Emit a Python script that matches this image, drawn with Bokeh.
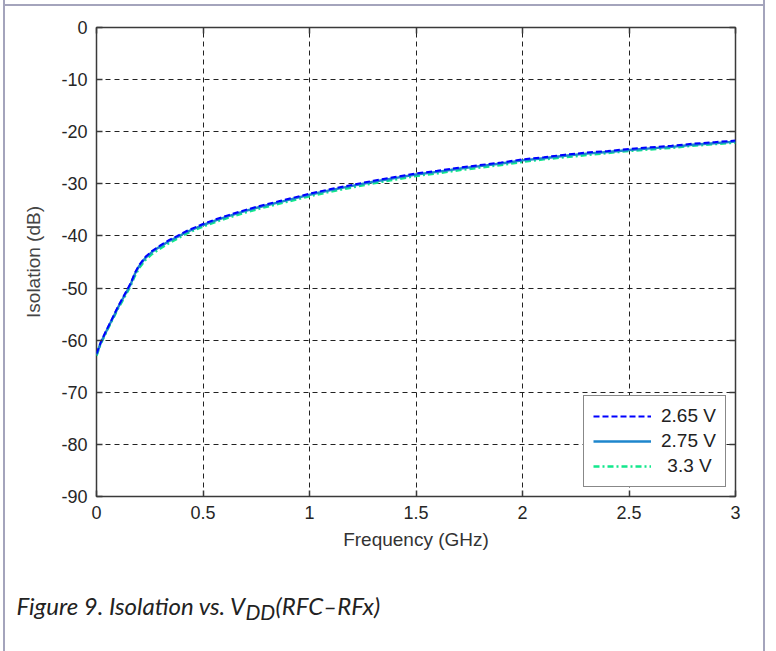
from bokeh.plotting import figure
from bokeh.models import (Range1d, FixedTicker, LinearAxis, CustomJSTickFormatter,
                          Legend, LegendItem, Label, Spacer)
from bokeh.layouts import row, column
from bokeh.embed import file_html
from bokeh.resources import INLINE

# ---------------- data ----------------
freq_ghz = [0, 0.02, 0.04, 0.06, 0.08, 0.10, 0.12, 0.14, 0.16, 0.18, 0.20, 0.23,
            0.26, 0.30, 0.34, 0.38, 0.42, 0.46, 0.50, 0.56, 0.62, 0.70, 0.78, 0.86,
            0.94, 1.02, 1.10, 1.20, 1.30, 1.40, 1.50, 1.60, 1.70, 1.80, 1.90, 2.00,
            2.10, 2.20, 2.30, 2.40, 2.50, 2.60, 2.70, 2.80, 2.90, 3.00]

iso_265 = [-62.6, -60.4, -58.6, -57.0, -55.3, -53.6, -52.1, -50.6, -49.1, -47.1,
           -45.6, -44.0, -42.9, -41.8, -40.8, -40.0, -39.1, -38.4, -37.7, -36.8,
           -36.0, -35.0, -34.1, -33.3, -32.5, -31.7, -31.0, -30.2, -29.4, -28.7,
           -28.0, -27.5, -26.9, -26.4, -25.9, -25.3, -24.9, -24.4, -24.0, -23.7,
           -23.3, -23.0, -22.7, -22.3, -22.0, -21.7]

iso_275 = [-62.8, -60.5, -58.8, -57.1, -55.5, -53.8, -52.3, -50.8, -49.3, -47.3,
           -45.8, -44.2, -43.1, -42.0, -41.0, -40.2, -39.3, -38.6, -37.9, -37.0,
           -36.2, -35.2, -34.3, -33.5, -32.7, -31.9, -31.2, -30.4, -29.6, -28.9,
           -28.2, -27.7, -27.1, -26.6, -26.1, -25.5, -25.1, -24.6, -24.2, -23.9,
           -23.5, -23.2, -22.9, -22.5, -22.2, -21.9]

iso_330 = [-63.0, -60.7, -59.0, -57.3, -55.7, -54.0, -52.6, -51.1, -49.6, -47.7,
           -46.2, -44.6, -43.5, -42.4, -41.4, -40.5, -39.6, -38.9, -38.2, -37.3,
           -36.5, -35.5, -34.6, -33.8, -33.0, -32.2, -31.5, -30.7, -29.9, -29.2,
           -28.5, -28.0, -27.4, -26.9, -26.4, -25.8, -25.3, -24.9, -24.5, -24.1,
           -23.7, -23.4, -23.1, -22.7, -22.4, -22.1]

series_labels = ["2.65 V", "2.75 V", "\u20043.3 V"]
x_ticks = [0, 0.5, 1, 1.5, 2, 2.5, 3]
x_tick_labels = ["0", "0.5", "1", "1.5", "2", "2.5", "3"]
y_ticks = [0, -10, -20, -30, -40, -50, -60, -70, -80, -90]
y_tick_labels = ["0", "-10", "-20", "-30", "-40", "-50", "-60", "-70", "-80", "-90"]
x_title = "Frequency (GHz)"
y_title = "Isolation (dB)"
caption_main = "Figure 9. Isolation vs. V"
caption_sub = "DD"
caption_tail = "(RFC\u2013RFx)"

FRAME_COLOR = "#a4a4bc"
INNER_W = 758

# ---------------- main figure ----------------
p = figure(width=INNER_W, height=550, output_backend="svg", toolbar_location=None,
           x_range=Range1d(0, 3), y_range=Range1d(-90, 0),
           min_border_left=91, min_border_right=28, min_border_top=21,
           min_border_bottom=60, background_fill_color="white",
           border_fill_color="white")

p.outline_line_color = "#3a3a3a"
p.outline_line_width = 1.5

TICK_FONT = "Liberation Sans"
for ax in (p.xaxis[0], p.yaxis[0]):
    ax.axis_line_color = None
    ax.major_tick_in = 6
    ax.major_tick_out = 0
    ax.major_tick_line_color = "#3a3a3a"
    ax.major_tick_line_width = 1.5
    ax.minor_tick_line_color = None
    ax.major_label_text_font = TICK_FONT
    ax.major_label_text_font_size = "18px"
    ax.major_label_text_color = "#262626"
    ax.axis_label_text_font = TICK_FONT
    ax.axis_label_text_font_size = "19px"
    ax.axis_label_text_font_style = "normal"
    ax.axis_label_text_color = "#333333"

p.xaxis[0].ticker = FixedTicker(ticks=x_ticks)
p.xaxis[0].major_label_overrides = dict(zip(x_ticks, x_tick_labels))
p.xaxis[0].major_label_standoff = 9
p.xaxis[0].axis_label = x_title
p.xaxis[0].axis_label_standoff = 7

p.yaxis[0].ticker = FixedTicker(ticks=y_ticks)
p.yaxis[0].major_label_overrides = dict(zip(y_ticks, y_tick_labels))
p.yaxis[0].major_label_standoff = 9
p.yaxis[0].axis_label = y_title
p.yaxis[0].axis_label_standoff = 14
p.yaxis[0].axis_label_text_color = "#444444"

blank = CustomJSTickFormatter(code="return ''")
top_ax = LinearAxis(ticker=FixedTicker(ticks=x_ticks), formatter=blank,
                    major_tick_in=6, major_tick_out=0, axis_line_color=None,
                    minor_tick_line_color=None, major_tick_line_color="#3a3a3a",
                    major_tick_line_width=1.5, major_label_text_font_size="1px",
                    major_label_standoff=0)
right_ax = LinearAxis(ticker=FixedTicker(ticks=y_ticks), formatter=blank,
                      major_tick_in=6, major_tick_out=0, axis_line_color=None,
                      minor_tick_line_color=None, major_tick_line_color="#3a3a3a",
                      major_tick_line_width=1.5, major_label_text_font_size="1px",
                      major_label_standoff=0)
p.add_layout(top_ax, "above")
p.add_layout(right_ax, "right")

p.xgrid.ticker = FixedTicker(ticks=x_ticks)
p.ygrid.ticker = FixedTicker(ticks=y_ticks)
for g in (p.xgrid[0], p.ygrid[0]):
    g.grid_line_color = "#222222"
    g.grid_line_dash = "5 4"
    g.grid_line_width = 1

r3 = p.line(freq_ghz, iso_330, line_color="#12e88c", line_width=2.4, line_dash="6 3 2 3")
r2 = p.line(freq_ghz, iso_275, line_color="#1e86cc", line_width=2.4)
r1 = p.line(freq_ghz, iso_265, line_color="#0000ff", line_width=2, line_dash="6 3")

legend = Legend(items=[LegendItem(label=series_labels[0], renderers=[r1]),
                       LegendItem(label=series_labels[1], renderers=[r2]),
                       LegendItem(label=series_labels[2], renderers=[r3])],
                location=(487, 9), orientation="vertical",
                border_line_color="#111111", border_line_width=1.2,
                background_fill_color="white", background_fill_alpha=1,
                label_text_font=TICK_FONT, label_text_font_size="19px",
                label_text_color="#222222",
                glyph_width=58, glyph_height=20, label_height=20,
                label_standoff=10, padding=9, spacing=3, margin=0)
p.add_layout(legend, "center")

# ---------------- caption panel ----------------
cap = figure(width=INNER_W, height=95, output_backend="svg", toolbar_location=None,
             x_range=Range1d(0, 1), y_range=Range1d(0, 1),
             x_axis_type=None, y_axis_type=None, min_border=0,
             min_border_left=0, min_border_right=0,
             outline_line_color=None, background_fill_color="white",
             border_fill_color="white")
cap.grid.visible = False

cap_font = "Lato"
cap.add_layout(Label(x=11, y=46, x_units="screen", y_units="screen",
                     text=caption_main, text_font=cap_font, text_font_style="italic",
                     text_font_size="24px", text_color="#222222",
                     text_baseline="alphabetic"))
cap.add_layout(Label(x=240, y=40, x_units="screen", y_units="screen",
                     text=caption_sub, text_font=cap_font, text_font_style="italic",
                     text_font_size="21px", text_color="#222222",
                     text_baseline="alphabetic"))
cap.add_layout(Label(x=270, y=46, x_units="screen", y_units="screen",
                     text=caption_tail, text_font=cap_font, text_font_style="italic",
                     text_font_size="24px", text_color="#222222",
                     text_baseline="alphabetic"))

# ---------------- outer frame (page box) ----------------
def bar(w, h, color=None):
    styles = {"background-color": color} if color else {}
    return Spacer(width=w, height=h, styles=styles)

upper = column(bar(INNER_W, 4), bar(INNER_W, 2, FRAME_COLOR), p, spacing=0)
lower = row(cap, spacing=0)
inner = column(upper, lower, spacing=0)
page = row(bar(3, 651), bar(2, 651, FRAME_COLOR), inner, bar(2, 651, FRAME_COLOR),
           spacing=0)

open("out.html", "w").write(file_html(page, INLINE))
